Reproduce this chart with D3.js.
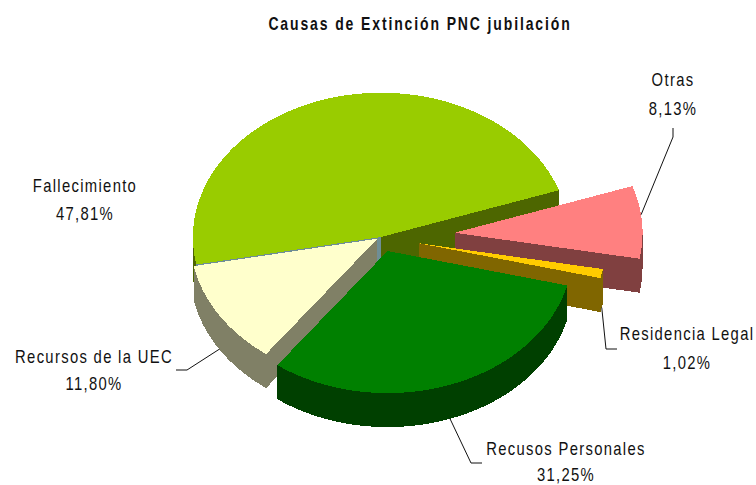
<!DOCTYPE html>
<html><head><meta charset="utf-8">
<script src="https://cdn.jsdelivr.net/npm/d3@7"></script>
<style>html,body{margin:0;padding:0;background:#fff;overflow:hidden}
text{font-family:"Liberation Sans",Arial,sans-serif;fill:#111}</style></head>
<body><svg id="c" width="756" height="485"></svg>
<script>
const titleText = "Causas de Extinción PNC jubilación";
const categories = ["Fallecimiento","Otras","Residencia Legal","Recusos Personales","Recursos de la UEC"];
const percentLabels = ["47,81%","8,13%","1,02%","31,25%","11,80%"];
const values = [47.81,8.13,1.02,31.25,11.80];
const explode = [0,0.39,0.205,0.1026,0.022];
const radiusScale = [0.995,0.995,0.99,0.98,0.99];
const topColors = ["#99CC00","#FF8080","#FFCC00","#008000","#FFFFCC"];
const wallColors = ["#4D6600","#804040","#806600","#004000","#808066"];
const startFaceColors = ["#6F8E96",null,null,null,"#808066"];

const deg = Math.PI/180;
const W = 756, H = 485;
const cx = 381, cy = 237, rx = 189, ry = 145, depth = 34;
const textSquash = 0.8;

const labelPos = [
  {x:85,y:192,dy:28},{x:673,y:86,dy:29},{x:687,y:340,dy:29},{x:566,y:455,dy:26},{x:94,y:363,dy:27}
];
const leaders = [
  null,
  {t:0.4,z:0,pts:[[673,137],[673,128]]},
  {t:0.5,z:1,pts:[[606,349],[617,349]]},
  {t:0.5,z:1,pts:[[471,463],[482,463]]},
  {t:0.5,z:1,pts:[[187,370],[176,370]]}
];

const svg = d3.select("#c");
const pie = d3.pie().sort(null).startAngle(-101*deg).endAngle(259*deg).value(d=>d);
const arcs = pie(values);
const sx = d3.scaleLinear().domain([-1,1]).range([cx-rx,cx+rx]);
const sy = d3.scaleLinear().domain([-1,1]).range([cy-ry,cy+ry]);
const line = d3.line();

arcs.forEach((a,i)=>{
  const mid=(a.startAngle+a.endAngle)/2, e=explode[i], R=radiusScale[i];
  a.ox=Math.sin(mid)*e; a.oy=-Math.cos(mid)*e;
  a.p=(t,r=1,dz=0)=>[sx(a.ox+R*r*Math.sin(t)),sy(a.oy-R*r*Math.cos(t))+dz];
  a.arcPts=(t0,t1,dz=0)=>{const n=Math.max(2,Math.round((t1-t0)/(1.5*deg)));
    return d3.range(n+1).map(k=>a.p(t0+(t1-t0)*k/n,1,dz));};
});

const order=[0,1,2,4,3];
const g=svg.append("g").attr("shape-rendering","crispEdges");
order.forEach(i=>{
  const a=arcs[i], t0=a.startAngle, t1=a.endAngle;
  const face=(t,col)=>g.append("path").attr("fill",col)
    .attr("d",line([a.p(t,0),a.p(t),a.p(t,1,depth),a.p(t,0,depth)])+"Z");
  if(Math.sin(t1)>0) face(t1,wallColors[i]);
  if(Math.sin(t0)<0) face(t0,startFaceColors[i]||wallColors[i]);
  const lo=Math.max(t0,90*deg), hi=Math.min(t1,270*deg);
  const lo2=Math.max(t0,-270*deg), hi2=Math.min(t1,-90*deg);
  [[lo,hi],[lo2,hi2]].forEach(([l,h])=>{ if(h>l){
    const pts=a.arcPts(l,h).concat(a.arcPts(l,h,depth).reverse());
    g.append("path").attr("fill",wallColors[i]).attr("d",line(pts)+"Z");
  }});
  g.append("path").attr("fill",topColors[i])
    .attr("d",line([a.p(t0,0)].concat(a.arcPts(t0,t1)))+"Z");
});

leaders.forEach((l,i)=>{
  if(!l) return;
  const a=arcs[i];
  const t=a.startAngle+(a.endAngle-a.startAngle)*l.t;
  svg.append("path").attr("fill","none").attr("stroke","#111").attr("stroke-width",1)
    .attr("d",line([a.p(t,1,l.z*depth)].concat(l.pts)));
});

const squashed=(sel,x,y,txt)=>sel.append("text")
  .attr("transform",`translate(${x},${y}) scale(${textSquash},1)`).text(txt);

squashed(svg.append("g").attr("text-anchor","middle").attr("font-size",17.5)
  .attr("font-weight","bold").attr("letter-spacing",2.35),420,30,titleText);

categories.forEach((c,i)=>{
  const p=labelPos[i];
  const t=svg.append("g").attr("font-size",18.5).attr("text-anchor","middle").attr("letter-spacing",1.65);
  squashed(t,p.x,p.y,c);
  squashed(t,p.x,p.y+p.dy,percentLabels[i]);
});
</script></body></html>
